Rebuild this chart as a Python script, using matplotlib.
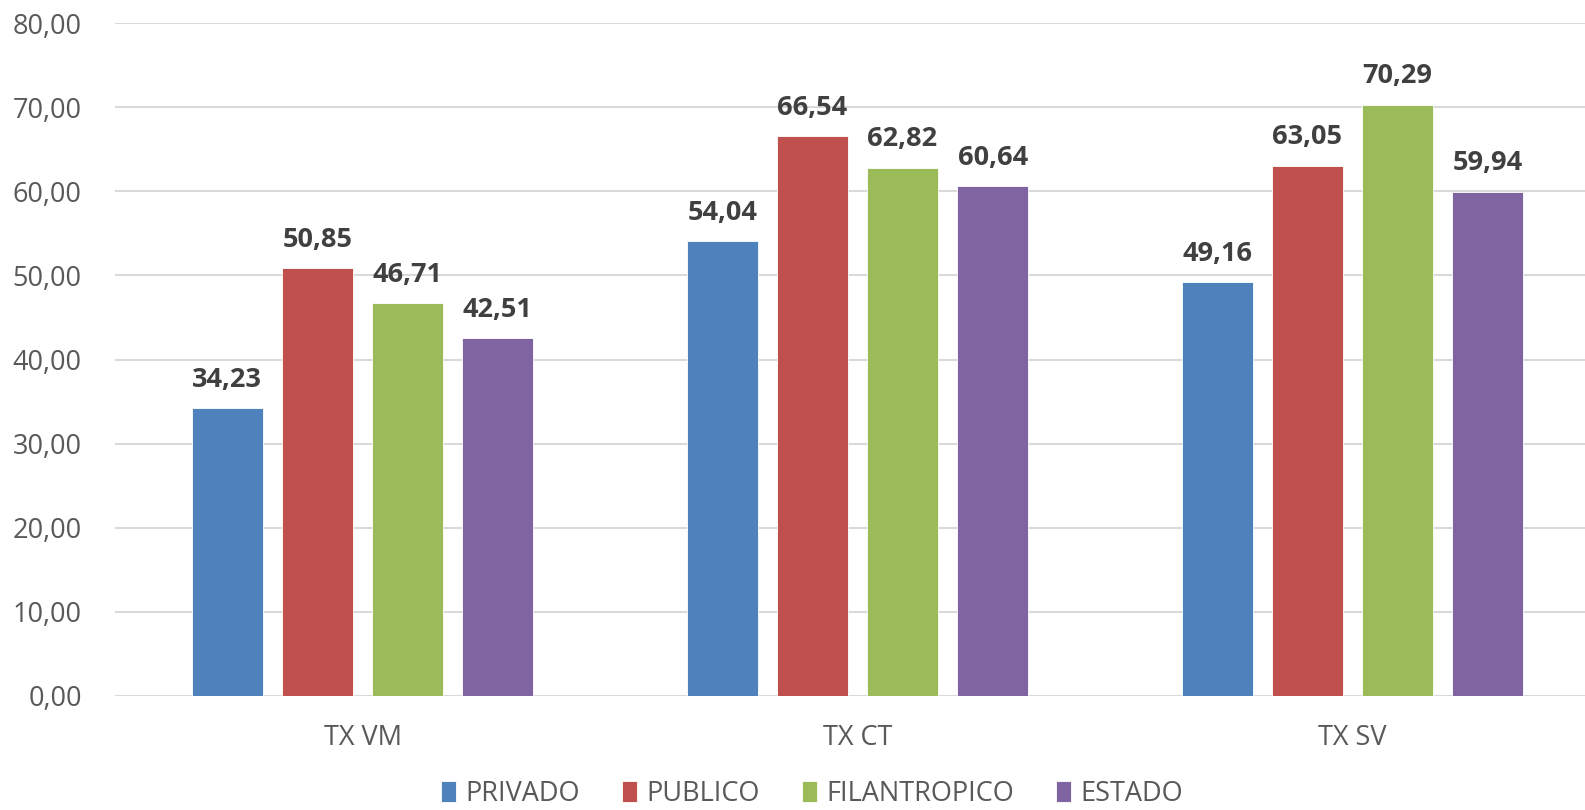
import matplotlib
matplotlib.use("Agg")
import matplotlib.pyplot as plt
import numpy as np

categories = ["TX VM", "TX CT", "TX SV"]
series_names = ["PRIVADO", "PUBLICO", "FILANTROPICO", "ESTADO"]
privado = [34.23, 54.04, 49.16]
publico = [50.85, 66.54, 63.05]
filantropico = [46.71, 62.82, 70.29]
estado = [42.51, 60.64, 59.94]
colors = ["#4F81BD", "#C0504D", "#9BBB59", "#8064A2"]

plt.rcParams['font.family'] = ['Open Sans', 'DejaVu Sans']

W, H = 1585, 810
fig = plt.figure(figsize=(W / 100, H / 100), dpi=100)
ax = fig.add_axes([115 / W, (H - 696) / H, (1600 - 115) / W, (696 - 23) / H])

x = np.arange(len(categories))
width = 0.143
step = 0.182
allvals = [privado, publico, filantropico, estado]
for i, (name, vals, c) in enumerate(zip(series_names, allvals, colors)):
    pos = x + (i - 1.5) * step
    bars = ax.bar(pos, vals, width, color=c, label=name, edgecolor='white',
                  linewidth=0.6, zorder=3)
    for b, v in zip(bars, vals):
        ax.annotate(("%.2f" % v).replace('.', ','),
                    (b.get_x() + b.get_width() / 2, v),
                    xytext=(0, 11), textcoords='offset points',
                    ha='center', va='bottom', fontsize=19.5, fontweight='bold',
                    color='#404040')

ax.set_xlim(-0.5, 2.5)
ax.set_ylim(0, 80)
ax.set_yticks(np.arange(0, 81, 10))
ax.set_yticklabels([("%.2f" % t).replace('.', ',') for t in np.arange(0, 81, 10)])
ax.set_xticks(x)
ax.set_xticklabels(categories)
ax.yaxis.grid(True, color='#d9d9d9', linewidth=1.5, zorder=0)
ax.set_axisbelow(True)
for s in ax.spines.values():
    s.set_visible(False)
ax.tick_params(axis='both', length=0, labelsize=19.5, colors='#595959')
ax.tick_params(axis='y', pad=24)
ax.tick_params(axis='x', pad=20)

fig.legend(loc='center', bbox_to_anchor=(812 / W, 1 - 794 / H), ncol=4,
           frameon=False, fontsize=19.5, handlelength=0.55, handleheight=0.8,
           columnspacing=1.55, handletextpad=0.35, labelcolor='#595959')

fig.savefig("out.png", dpi=100)
